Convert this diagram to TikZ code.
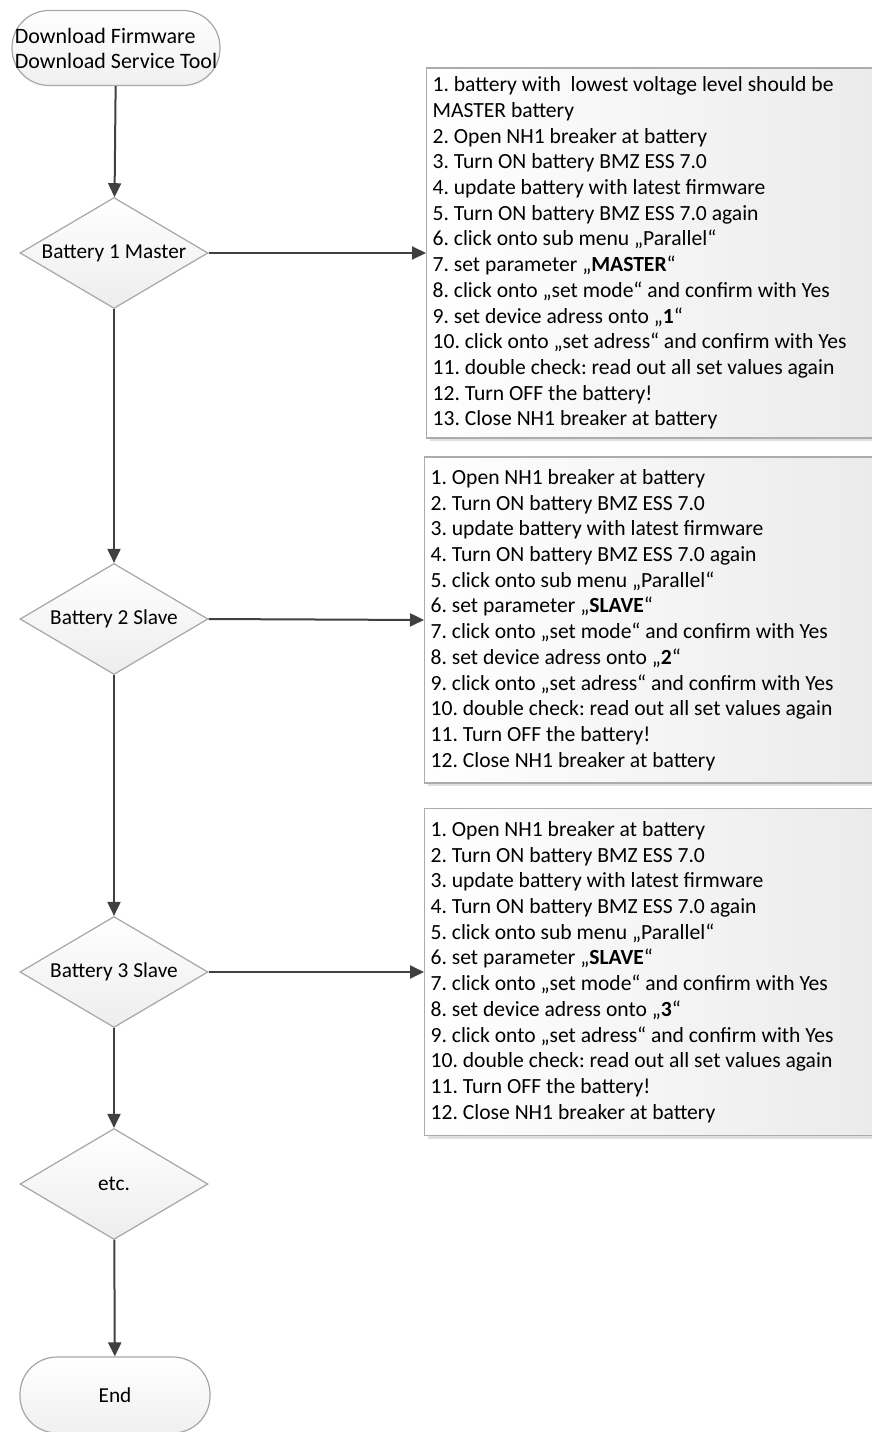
\documentclass[tikz,border=0pt]{standalone}
\usepackage{fontspec}
\setmainfont{Carlito}
\usetikzlibrary{shapes.geometric,arrows.meta,shadows}
\frenchspacing
\begin{document}
\begin{tikzpicture}[x=1pt, y=-1pt,
    font=\fontsize{21.3}{25}\selectfont,
    terminal/.style={draw=gray!70, line width=1.2pt, rounded corners=37pt,
        top color=white, bottom color=gray!12, align=center,
        minimum width=208pt, minimum height=75pt, inner sep=2pt},
    decision/.style={diamond, aspect=1.7, draw=gray!70, line width=1.2pt,
        top color=white, bottom color=gray!14, inner sep=0pt,
        minimum width=188pt, minimum height=111pt},
    stepbox/.style={draw=gray!65, line width=1.2pt, shading angle=45,
        left color=white, right color=gray!16, anchor=west,
        minimum width=456pt, text width=444pt, align=flush left, inner xsep=6pt,
        font=\fontsize{21.6}{25.7}\selectfont,
        drop shadow={opacity=0.25, shadow xshift=3pt, shadow yshift=-3pt}},
    flow/.style={draw=black!75, line width=2pt, -{Triangle[length=14pt, width=13pt]}}]
    % Marco de la imagen.
    \useasboundingbox (0,0) rectangle (872,1432);
    \clip (0,0) rectangle (872,1432);

    % Columna principal del diagrama.
    \node[terminal, align=flush left, font=\fontsize{22}{25}\selectfont] (start) at (116,48)
        {Download Firmware\\Download Service Tool};
    \node[decision] (bat1) at (114,253) {Battery 1 Master};
    \node[decision] (bat2) at (114,619) {Battery 2 Slave};
    \node[decision] (bat3) at (114,972) {Battery 3 Slave};
    \node[decision] (etc) at (114,1184) {etc.};
    \node[terminal, minimum width=190pt, minimum height=76pt] (finish) at (115,1395) {End};

    % Listas de pasos para cada batería.
    \node[stepbox, minimum height=370pt] (steps1) at (426,253) {%
        1. battery with\ \ lowest voltage level should be\\
        MASTER battery\\
        2. Open NH1 breaker at battery\\
        3. Turn ON battery BMZ ESS 7.0\\
        4. update battery with latest firmware\\
        5. Turn ON battery BMZ ESS 7.0 again\\
        6. click onto sub menu „Parallel“\\
        7. set parameter „\textbf{MASTER}“\\
        8. click onto „set mode“ and confirm with Yes\\
        9. set device adress onto „\textbf{1}“\\
        10. click onto „set adress“ and confirm with Yes\\
        11. double check: read out all set values again\\
        12. Turn OFF the battery!\\
        13. Close NH1 breaker at battery};
    \node[stepbox, minimum height=326pt] (steps2) at (424,620) {%
        1. Open NH1 breaker at battery\\
        2. Turn ON battery BMZ ESS 7.0\\
        3. update battery with latest firmware\\
        4. Turn ON battery BMZ ESS 7.0 again\\
        5. click onto sub menu „Parallel“\\
        6. set parameter „\textbf{SLAVE}“\\
        7. click onto „set mode“ and confirm with Yes\\
        8. set device adress onto „\textbf{2}“\\
        9. click onto „set adress“ and confirm with Yes\\
        10. double check: read out all set values again\\
        11. Turn OFF the battery!\\
        12. Close NH1 breaker at battery};
    \node[stepbox, minimum height=327pt] (steps3) at (424,972) {%
        1. Open NH1 breaker at battery\\
        2. Turn ON battery BMZ ESS 7.0\\
        3. update battery with latest firmware\\
        4. Turn ON battery BMZ ESS 7.0 again\\
        5. click onto sub menu „Parallel“\\
        6. set parameter „\textbf{SLAVE}“\\
        7. click onto „set mode“ and confirm with Yes\\
        8. set device adress onto „\textbf{3}“\\
        9. click onto „set adress“ and confirm with Yes\\
        10. double check: read out all set values again\\
        11. Turn OFF the battery!\\
        12. Close NH1 breaker at battery};

    % Flechas.
    \draw[flow] (start) -- (bat1);
    \draw[flow] (bat1) -- (bat2);
    \draw[flow] (bat2) -- (bat3);
    \draw[flow] (bat3) -- (etc);
    \draw[flow] (etc) -- (finish);
    \draw[flow] (bat1.east) -- (steps1.west);
    \draw[flow] (bat2.east) -- (steps2.west);
    \draw[flow] (bat3.east) -- (steps3.west);
\end{tikzpicture}
\end{document}
